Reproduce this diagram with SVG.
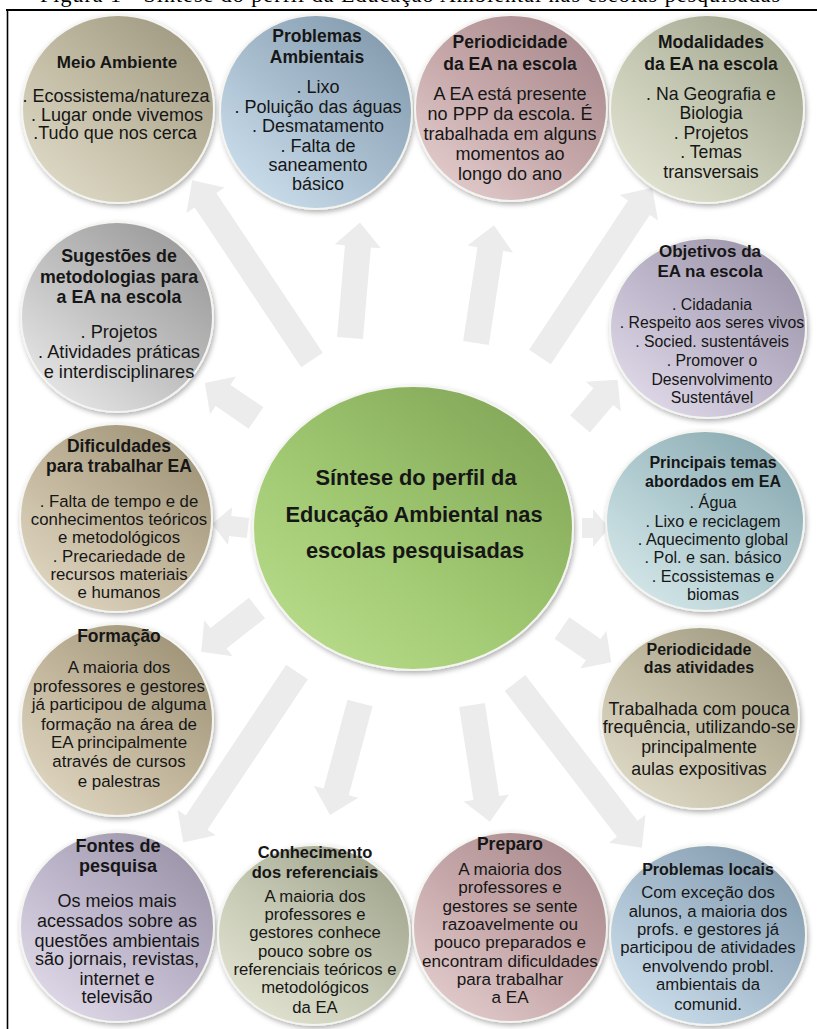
<svg xmlns="http://www.w3.org/2000/svg" width="817" height="1029" viewBox="0 0 817 1029">
<style>
.t{font-family:"Liberation Sans",Arial,sans-serif;fill:#161616;text-anchor:middle}
.b{font-weight:bold}
.arr{fill:#ececec}
.c{stroke:#f4f4f0;stroke-width:2;filter:url(#sh)}
.cap{font-family:"Liberation Serif","Times New Roman",serif;font-size:22px;fill:#000;text-anchor:middle}
</style>
<defs>
<filter id="sh" x="-10%" y="-10%" width="125%" height="125%"><feDropShadow dx="1.5" dy="2.5" stdDeviation="2.5" flood-color="#000" flood-opacity="0.3"/></filter>
<linearGradient id="gBeige" x1="0.85" y1="0.1" x2="0.15" y2="0.9"><stop offset="0" stop-color="#a29c84"/><stop offset="0.55" stop-color="#c4bea7"/><stop offset="1" stop-color="#dcd7c3"/></linearGradient>
<linearGradient id="gBlue" x1="0.85" y1="0.1" x2="0.15" y2="0.9"><stop offset="0" stop-color="#869db0"/><stop offset="0.55" stop-color="#a9bfd0"/><stop offset="1" stop-color="#cadcea"/></linearGradient>
<linearGradient id="gMauve" x1="0.85" y1="0.1" x2="0.15" y2="0.9"><stop offset="0" stop-color="#aa8c90"/><stop offset="0.55" stop-color="#c7a9ab"/><stop offset="1" stop-color="#e0c9ca"/></linearGradient>
<linearGradient id="gSage" x1="0.85" y1="0.1" x2="0.15" y2="0.9"><stop offset="0" stop-color="#a2a68f"/><stop offset="0.55" stop-color="#c6c9b3"/><stop offset="1" stop-color="#e0e2d0"/></linearGradient>
<linearGradient id="gGray" x1="0.85" y1="0.1" x2="0.15" y2="0.9"><stop offset="0" stop-color="#9c9c9c"/><stop offset="0.55" stop-color="#c2c2c2"/><stop offset="1" stop-color="#e4e4e4"/></linearGradient>
<linearGradient id="gLav" x1="0.85" y1="0.1" x2="0.15" y2="0.9"><stop offset="0" stop-color="#9d95aa"/><stop offset="0.55" stop-color="#c0b8cc"/><stop offset="1" stop-color="#ddd7e7"/></linearGradient>
<linearGradient id="gTan" x1="0.85" y1="0.1" x2="0.15" y2="0.9"><stop offset="0" stop-color="#a09479"/><stop offset="0.55" stop-color="#c3b79d"/><stop offset="1" stop-color="#ddd4bf"/></linearGradient>
<linearGradient id="gTeal" x1="0.85" y1="0.1" x2="0.15" y2="0.9"><stop offset="0" stop-color="#8babb2"/><stop offset="0.55" stop-color="#b1ccd1"/><stop offset="1" stop-color="#d2e5e7"/></linearGradient>
<linearGradient id="gGreen" x1="0.85" y1="0.1" x2="0.15" y2="0.9"><stop offset="0" stop-color="#84a95a"/><stop offset="0.55" stop-color="#9fc770"/><stop offset="1" stop-color="#b6da88"/></linearGradient>
</defs>
<rect x="0" y="0" width="817" height="1029" fill="#fff"/>
<text class="cap" x="410" y="2" textLength="740" lengthAdjust="spacing">Figura 1 - Síntese do perfil da Educação Ambiental nas escolas pesquisadas</text>
<g id="frame" stroke="#000" fill="none">
<line x1="6" y1="10" x2="817" y2="10" stroke-width="2.2"/>
<line x1="7.5" y1="9" x2="7.5" y2="1029" stroke-width="1.6"/>
</g>
<g id="connectors">
<polygon class="arr" transform="translate(312,360) rotate(-123.69)" points="0,-13 192,-13 192,-23 216,0 192,23 192,13 0,13"/>
<polygon class="arr" transform="translate(350,338) rotate(-85.07)" points="0,-13 92,-13 92,-23 116,0 92,23 92,13 0,13"/>
<polygon class="arr" transform="translate(476,343) rotate(-81.33)" points="0,-13 95,-13 95,-23 119,0 95,23 95,13 0,13"/>
<polygon class="arr" transform="translate(540,357) rotate(-56.47)" points="0,-13 179,-13 179,-23 203,0 179,23 179,13 0,13"/>
<polygon class="arr" transform="translate(580,424) rotate(-49.6)" points="0,-13 36,-13 36,-23 58,0 36,23 36,13 0,13"/>
<polygon class="arr" transform="translate(582,528)" points="0,-10 11,-10 11,-19 27,0 11,19 11,10 0,10"/>
<polygon class="arr" transform="translate(562,628) rotate(34.76)" points="0,-13 38,-13 38,-23 60,0 38,23 38,13 0,13"/>
<polygon class="arr" transform="translate(515,683) rotate(52.41)" points="0,-13 184,-13 184,-23 208,0 184,23 184,13 0,13"/>
<polygon class="arr" transform="translate(472,705) rotate(81.25)" points="0,-13 94,-13 94,-23 118,0 94,23 94,13 0,13"/>
<polygon class="arr" transform="translate(360,703) rotate(104.99)" points="0,-13 92,-13 92,-23 116,0 92,23 92,13 0,13"/>
<polygon class="arr" transform="translate(297,672) rotate(123.69)" points="0,-13 181,-13 181,-23 205,0 181,23 181,13 0,13"/>
<polygon class="arr" transform="translate(257,608) rotate(141.84)" points="0,-13 49,-13 49,-23 71,0 49,23 49,13 0,13"/>
<polygon class="arr" transform="translate(248,528) rotate(-173.66)" points="0,-10 18,-10 18,-19 36,0 18,19 18,10 0,10"/>
<polygon class="arr" transform="translate(256,418) rotate(-145.53)" points="0,-13 40,-13 40,-23 62,0 40,23 40,13 0,13"/>
</g>
<g id="n-center">
<ellipse class="c" cx="413" cy="528" rx="160" ry="142" fill="url(#gGreen)"/>
<text class="t b" font-size="21.8" x="416" y="485">Síntese do perfil da</text>
<text class="t b" font-size="21.8" x="414" y="522">Educação Ambiental nas</text>
<text class="t b" font-size="21.8" x="415" y="558">escolas pesquisadas</text>
</g>
<g id="n-meio-ambiente" font-size="18">
<ellipse class="c" cx="118" cy="109" rx="96" ry="94" fill="url(#gBeige)"/>
<text class="t b" font-size="17" x="117" y="68">Meio Ambiente</text>
<text class="t" x="116" y="102">. Ecossistema/natureza</text>
<text class="t" x="117" y="121">. Lugar onde vivemos</text>
<text class="t" x="115" y="139">.Tudo que nos cerca</text>
</g>
<g id="n-problemas-ambientais" font-size="18">
<ellipse class="c" cx="316" cy="112" rx="96" ry="97" fill="url(#gBlue)"/>
<text class="t b" font-size="17.5" x="317" y="42">Problemas</text>
<text class="t b" font-size="17.5" x="317" y="63">Ambientais</text>
<text class="t" x="318" y="93">. Lixo</text>
<text class="t" x="318" y="113">. Poluição das águas</text>
<text class="t" x="318" y="132">. Desmatamento</text>
<text class="t" x="318" y="152">. Falta de</text>
<text class="t" x="318" y="171">saneamento</text>
<text class="t" x="318" y="190">básico</text>
</g>
<g id="n-periodicidade-ea" font-size="18">
<ellipse class="c" cx="511" cy="108" rx="96" ry="93" fill="url(#gMauve)"/>
<text class="t b" font-size="17.5" x="510" y="48">Periodicidade</text>
<text class="t b" font-size="17.5" x="510" y="70">da EA na escola</text>
<text class="t" x="510" y="100">A EA está presente</text>
<text class="t" x="510" y="120">no PPP da escola. É</text>
<text class="t" x="510" y="140">trabalhada em alguns</text>
<text class="t" x="510" y="160">momentos ao</text>
<text class="t" x="510" y="180">longo do ano</text>
</g>
<g id="n-modalidades" font-size="17.7">
<ellipse class="c" cx="707" cy="109" rx="97" ry="94" fill="url(#gSage)"/>
<text class="t b" font-size="17.5" x="711" y="48">Modalidades</text>
<text class="t b" font-size="17.5" x="711" y="70">da EA na escola</text>
<text class="t" x="711" y="100">. Na Geografia e</text>
<text class="t" x="711" y="119">Biologia</text>
<text class="t" x="711" y="139">. Projetos</text>
<text class="t" x="711" y="158">. Temas</text>
<text class="t" x="711" y="178">transversais</text>
</g>
<g id="n-sugestoes" font-size="18.2">
<ellipse class="c" cx="117" cy="317" rx="96" ry="95" fill="url(#gGray)"/>
<text class="t b" font-size="17.8" x="119" y="262">Sugestões de</text>
<text class="t b" font-size="17.8" x="119" y="283">metodologias para</text>
<text class="t b" font-size="17.8" x="119" y="303">a EA na escola</text>
<text class="t" x="119" y="338">. Projetos</text>
<text class="t" x="119" y="358">. Atividades práticas</text>
<text class="t" x="119" y="378">e interdisciplinares</text>
</g>
<g id="n-objetivos" font-size="15.8">
<ellipse class="c" cx="708" cy="328" rx="98" ry="90" fill="url(#gLav)"/>
<text class="t b" font-size="17" x="710" y="257">Objetivos da</text>
<text class="t b" font-size="17" x="710" y="277">EA na escola</text>
<text class="t" x="712" y="310">. Cidadania</text>
<text class="t" x="712" y="328">. Respeito aos seres vivos</text>
<text class="t" x="712" y="347">. Socied. sustentáveis</text>
<text class="t" x="712" y="366">. Promover o</text>
<text class="t" x="712" y="385">Desenvolvimento</text>
<text class="t" x="712" y="403">Sustentável</text>
</g>
<g id="n-dificuldades" font-size="16.8">
<ellipse class="c" cx="116" cy="518" rx="96" ry="94" fill="url(#gTan)"/>
<text class="t b" font-size="17.5" x="119" y="452">Dificuldades</text>
<text class="t b" font-size="17.5" x="119" y="472">para trabalhar EA</text>
<text class="t" x="119" y="507">. Falta de tempo e de</text>
<text class="t" x="119" y="525">conhecimentos teóricos</text>
<text class="t" x="119" y="543">e metodológicos</text>
<text class="t" x="119" y="562">. Precariedade de</text>
<text class="t" x="119" y="580">recursos materiais</text>
<text class="t" x="119" y="598">e humanos</text>
</g>
<g id="n-principais-temas" font-size="16.2">
<ellipse class="c" cx="705" cy="521" rx="99" ry="90" fill="url(#gTeal)"/>
<text class="t b" font-size="16" x="713" y="468">Principais temas</text>
<text class="t b" font-size="16" x="713" y="487">abordados em EA</text>
<text class="t" x="713" y="508">. Água</text>
<text class="t" x="713" y="527">. Lixo e reciclagem</text>
<text class="t" x="713" y="545">. Aquecimento global</text>
<text class="t" x="713" y="563">. Pol. e san. básico</text>
<text class="t" x="713" y="582">. Ecossistemas e</text>
<text class="t" x="713" y="600">biomas</text>
</g>
<g id="n-formacao" font-size="16.9">
<ellipse class="c" cx="117" cy="720" rx="96" ry="96" fill="url(#gTan)"/>
<text class="t b" font-size="17.5" x="119" y="642">Formação</text>
<text class="t" x="119" y="673">A maioria dos</text>
<text class="t" x="119" y="692">professores e gestores</text>
<text class="t" x="119" y="710">já participou de alguma</text>
<text class="t" x="119" y="730">formação na área de</text>
<text class="t" x="119" y="748">EA principalmente</text>
<text class="t" x="119" y="767">através de cursos</text>
<text class="t" x="119" y="787">e palestras</text>
</g>
<g id="n-periodicidade-atividades" font-size="17.8">
<ellipse class="c" cx="700" cy="718" rx="99" ry="91" fill="url(#gBeige)"/>
<text class="t b" font-size="16" x="699" y="655">Periodicidade</text>
<text class="t b" font-size="16" x="699" y="673">das atividades</text>
<text class="t" x="699" y="715">Trabalhada com pouca</text>
<text class="t" x="699" y="733">frequência, utilizando-se</text>
<text class="t" x="699" y="753">principalmente</text>
<text class="t" x="699" y="775">aulas expositivas</text>
</g>
<g id="n-fontes" font-size="18">
<ellipse class="c" cx="117" cy="927" rx="97" ry="95" fill="url(#gLav)"/>
<text class="t b" font-size="18" x="118" y="852">Fontes de</text>
<text class="t b" font-size="18" x="118" y="872">pesquisa</text>
<text class="t" x="117" y="907">Os meios mais</text>
<text class="t" x="117" y="927">acessados sobre as</text>
<text class="t" x="117" y="947">questões ambientais</text>
<text class="t" x="117" y="965">são jornais, revistas,</text>
<text class="t" x="117" y="985">internet e</text>
<text class="t" x="117" y="1003">televisão</text>
</g>
<g id="n-conhecimento" font-size="16.7">
<ellipse class="c" cx="314" cy="935" rx="96" ry="90" fill="url(#gSage)"/>
<text class="t b" font-size="16.5" x="315" y="858">Conhecimento</text>
<text class="t b" font-size="16.5" x="315" y="878">dos referenciais</text>
<text class="t" x="315" y="902">A maioria dos</text>
<text class="t" x="315" y="920">professores e</text>
<text class="t" x="315" y="938">gestores conhece</text>
<text class="t" x="315" y="957">pouco sobre os</text>
<text class="t" x="315" y="975">referenciais teóricos e</text>
<text class="t" x="315" y="993">metodológicos</text>
<text class="t" x="315" y="1013">da EA</text>
</g>
<g id="n-preparo" font-size="17.1">
<ellipse class="c" cx="510" cy="927" rx="97" ry="95" fill="url(#gMauve)"/>
<text class="t b" font-size="17.5" x="510" y="850">Preparo</text>
<text class="t" x="510" y="875">A maioria dos</text>
<text class="t" x="510" y="893">professores e</text>
<text class="t" x="510" y="912">gestores se sente</text>
<text class="t" x="510" y="930">razoavelmente ou</text>
<text class="t" x="510" y="948">pouco preparados e</text>
<text class="t" x="510" y="967">encontram dificuldades</text>
<text class="t" x="510" y="985">para trabalhar</text>
<text class="t" x="510" y="1003">a EA</text>
</g>
<g id="n-problemas-locais" font-size="16.7">
<ellipse class="c" cx="708" cy="935" rx="98" ry="90" fill="url(#gBlue)"/>
<text class="t b" font-size="16" x="708" y="875">Problemas locais</text>
<text class="t" x="708" y="898">Com exceção dos</text>
<text class="t" x="708" y="917">alunos, a maioria dos</text>
<text class="t" x="708" y="935">profs. e gestores já</text>
<text class="t" x="708" y="953">participou de atividades</text>
<text class="t" x="708" y="972">envolvendo probl.</text>
<text class="t" x="708" y="990">ambientais da</text>
<text class="t" x="708" y="1010">comunid.</text>
</g>
</svg>
